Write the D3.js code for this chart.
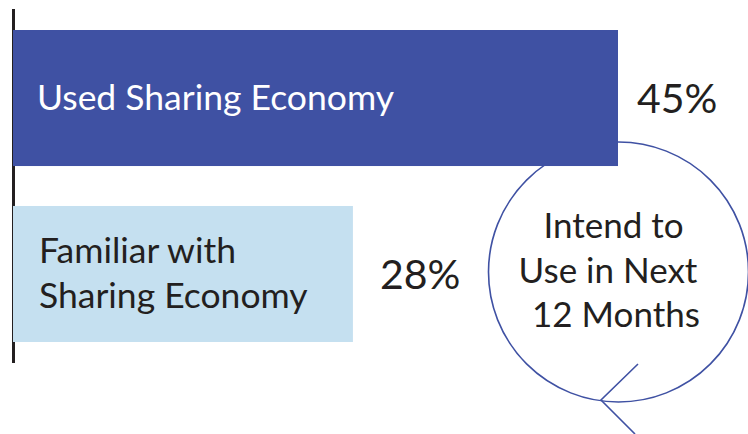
<!DOCTYPE html>
<html>
<head>
<meta charset="utf-8">
<script src="https://cdn.jsdelivr.net/npm/d3@7"></script>
<style>
  html, body { margin: 0; padding: 0; background: #ffffff; }
  svg { display: block; }
  text { font-family: Lato, "Open Sans", sans-serif; }
</style>
</head>
<body>
<svg id="chart" width="748" height="434"></svg>
<script>
// ---- data ----
const categories = ["Used Sharing Economy", "Familiar with Sharing Economy"];
const labelLines = [["Used Sharing Economy"], ["Familiar with", "Sharing Economy"]];
const values = [45, 28];
const valueLabels = ["45%", "28%"];
const calloutLines = ["Intend to", "Use in Next", "12 Months"];

// ---- styles ----
const barColors = ["#3f51a3", "#c5e0f0"];
const labelColors = ["#ffffff", "#231f20"];
const textDark = "#231f20";

const svg = d3.select("#chart");

const x = d3.scaleLinear().domain([6.2, 45]).range([13, 618]);
const y = d3.scaleBand().domain(categories).range([30, 342]).paddingInner(0.227).paddingOuter(0);

// axis line
svg.append("line")
  .attr("x1", 13.5).attr("x2", 13.5)
  .attr("y1", 9).attr("y2", 363)
  .attr("stroke", "#231f20").attr("stroke-width", 3);

// callout circle (behind bars)
const cx = 618.5, cy = 272, r = 130;
const g = svg.append("g");
g.append("circle")
  .attr("cx", cx).attr("cy", cy).attr("r", r)
  .attr("fill", "none").attr("stroke", "#3f51a3").attr("stroke-width", 1.6);
g.append("polyline")
  .attr("points", "638,364 601,400 635,434")
  .attr("fill", "none").attr("stroke", "#3f51a3").attr("stroke-width", 1.6);

const ct = g.append("text")
  .attr("text-anchor", "middle")
  .attr("fill", textDark)
  .attr("font-size", 35);
const ctx = [613.5, 608, 616];
calloutLines.forEach((t, i) => {
  ct.append("tspan").attr("x", ctx[i]).attr("y", 238 + i * 44.5).text(t);
});

// bars
svg.selectAll("rect.bar")
  .data(categories)
  .join("rect")
  .attr("class", "bar")
  .attr("x", x.range()[0])
  .attr("y", d => y(d))
  .attr("width", (d, i) => x(values[i]) - x.range()[0])
  .attr("height", y.bandwidth())
  .attr("fill", (d, i) => barColors[i]);

// bar labels
categories.forEach((c, i) => {
  const lines = labelLines[i];
  const mid = y(c) + y.bandwidth() / 2;
  const lh = 45;
  const t = svg.append("text")
    .attr("fill", labelColors[i])
    .attr("font-size", 35.5);
  lines.forEach((ln, j) => {
    t.append("tspan")
      .attr("x", i === 0 ? 37 : 39)
      .attr("y", mid + 12 + (j - (lines.length - 1) / 2) * lh)
      .text(ln);
  });
});

// value labels
svg.selectAll("text.val")
  .data(categories)
  .join("text")
  .attr("class", "val")
  .attr("x", (d, i) => x(values[i]) + (i === 0 ? 19 : 27))
  .attr("y", d => y(d) + y.bandwidth() / 2 + 15)
  .attr("fill", textDark)
  .attr("font-size", 41)
  .text((d, i) => valueLabels[i]);
</script>
</body>
</html>
